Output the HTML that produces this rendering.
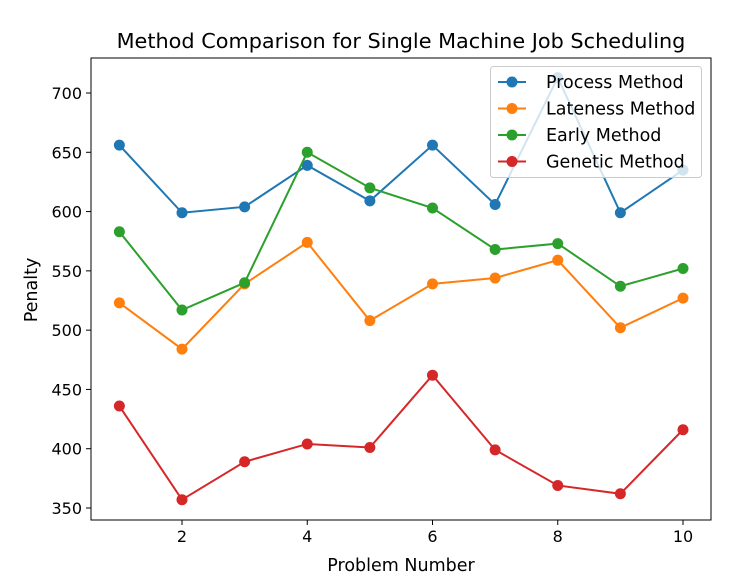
<!DOCTYPE html>
<html><head><meta charset="utf-8"><style>
body{margin:0;background:#fff;}
svg text{font-family:"DejaVu Sans","Liberation Sans",sans-serif;fill:#000;}
</style></head><body>
<svg id="chart" width="750" height="576" xmlns="http://www.w3.org/2000/svg"></svg>
<script>
const categories=[1,2,3,4,5,6,7,8,9,10];
const processValues=[656,599,604,639,609,656,606,713,599,635];
const latenessValues=[523,484,539,574,508,539,544,559,502,527];
const earlyValues=[583,517,540,650,620,603,568,573,537,552];
const geneticValues=[436,357,389,404,401,462,399,369,362,416];
const seriesNames=["Process Method","Lateness Method","Early Method","Genetic Method"];
const xTicks=[2,4,6,8,10];
const yTicks=[350,400,450,500,550,600,650,700];

const colors=["#1f77b4","#ff7f0e","#2ca02c","#d62728"];
const L=91,R=711,T=58,B=520;
const xs=v=>182+(v-2)*(683-182)/8;
const ys=v=>93+(700-v)*(508-93)/350;
const svg=document.getElementById('chart');
const NS="http://www.w3.org/2000/svg";
function mk(tag,attrs,parent){const e=document.createElementNS(NS,tag);for(const k in attrs)e.setAttribute(k,attrs[k]);(parent||svg).appendChild(e);return e;}

const title=mk('text',{x:401,y:48,'text-anchor':'middle','font-size':20.8});
title.textContent="Method Comparison for Single Machine Job Scheduling";



const xg=mk('g',{});


xTicks.forEach(t=>{
  mk('line',{x1:xs(t),x2:xs(t),y1:B,y2:B+5,stroke:'#000','stroke-width':1},xg);
  const tx=mk('text',{x:xs(t),y:B+22,'text-anchor':'middle','font-size':16},xg);
  tx.textContent=t;
  
  
});
const yg=mk('g',{});


yTicks.forEach(t=>{
  mk('line',{x1:L-5,x2:L,y1:ys(t),y2:ys(t),stroke:'#000','stroke-width':1},yg);
  const tx=mk('text',{x:L-9,y:ys(t)+6,'text-anchor':'end','font-size':16},yg);
  tx.textContent=t;
  
  
});
const xt=mk('text',{x:401,y:571,'text-anchor':'middle','font-size':17.5});
xt.textContent="Problem Number";


const yt=mk('text',{x:37,y:290,'text-anchor':'middle','font-size':17.5,transform:'rotate(-90 37 290)'});
yt.textContent="Penalty";



const all=[processValues,latenessValues,earlyValues,geneticValues];
all.forEach((vals,i)=>{
  const g=mk('g',{});
  
  
  const pts=vals.map((v,j)=>xs(categories[j])+','+ys(v)).join(' ');
  mk('polyline',{points:pts,fill:'none',stroke:colors[i],'stroke-width':2},g);
  vals.forEach((v,j)=>{
    const c=mk('circle',{cx:xs(categories[j]),cy:ys(v),r:5.5,fill:colors[i]},g);
    
    
  });
});

const frame=mk('rect',{x:L,y:T,width:R-L,height:B-T,fill:'none',stroke:'#000','stroke-width':1});



const lg=mk('g',{});


mk('rect',{x:490.5,y:66.5,width:211,height:111,rx:3,fill:'#fff','fill-opacity':0.8,stroke:'#ccc'},lg);
seriesNames.forEach((n,i)=>{
  const y=82+i*26.5;
  const e=mk('g',{},lg);
  
  
  mk('line',{x1:498,x2:526,y1:y,y2:y,stroke:colors[i],'stroke-width':2},e);
  mk('circle',{cx:512,cy:y,r:5.5,fill:colors[i]},e);
  const t=mk('text',{x:546,y:y+6,'font-size':17.5},e);
  t.textContent=n;
});
</script>
</body></html>
